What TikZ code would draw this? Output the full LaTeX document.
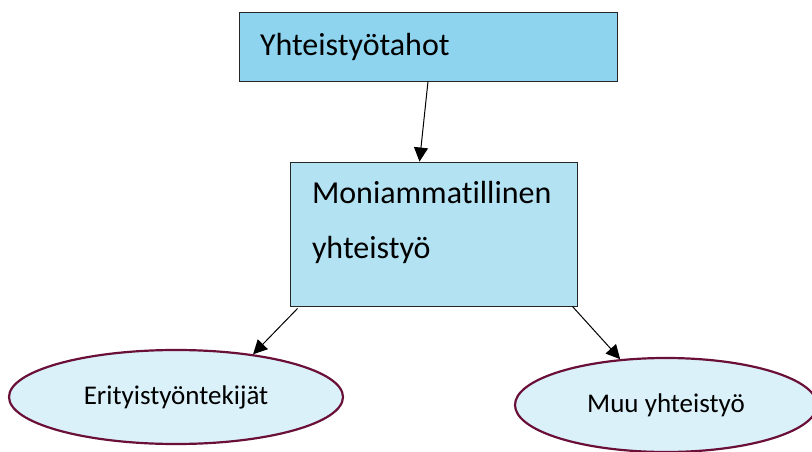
\documentclass[tikz,border=0pt]{standalone}
\usepackage{fontspec}
\setmainfont{Carlito}[Ligatures={NoCommon}]
\usetikzlibrary{shapes.geometric, arrows.meta}

\definecolor{topblue}{HTML}{8ED4EE}
\definecolor{midblue}{HTML}{B3E2F2}
\definecolor{ovalblue}{HTML}{DAF1F9}
\definecolor{maroon}{HTML}{6A1038}

\tikzset{
    box/.style={draw=black!85, line width=0.9pt, rectangle},
    oval/.style={ellipse, draw=maroon, line width=2.2pt, fill=ovalblue,
        minimum width=334pt, minimum height=94pt, inner sep=0pt,
        font=\fontsize{27}{31}\selectfont},
    link/.style={-{Triangle[length=14pt, width=14pt]}, line width=1pt}
}

\begin{document}
\begin{tikzpicture}[x=1pt, y=-1pt]
        \useasboundingbox (0,0) rectangle (812,452);

        \node[box, fill=topblue, minimum width=378pt, minimum height=69pt,
              inner xsep=21pt, text width=336pt, align=left,
              font=\fontsize{32}{38}\selectfont] (top) at (428,46.5) {Yhteistyötahot};
        \node[box, fill=midblue, inner xsep=22pt, inner ysep=0pt,
              font=\fontsize{32}{38}\selectfont] (mid) at (433.5,234)
              {\parbox[c][144pt][t]{243pt}{\baselineskip=55pt
               \rule{0pt}{41pt}Moniammatillinen\\ yhteistyö}};

        \node[oval] (left)  at (176,397) {Erityistyöntekijät};
        \node[oval, minimum width=302pt] (right) at (666,405) {Muu yhteistyö};

        \draw[link] (top.south) -- ([xshift=-14pt]mid.north);
        \draw[link] ([xshift=8pt, yshift=-2pt]mid.south west) -- (left.29);
        \draw[link] ([xshift=-5pt]mid.south east) -- (right.135);
    \end{tikzpicture}
\end{document}
